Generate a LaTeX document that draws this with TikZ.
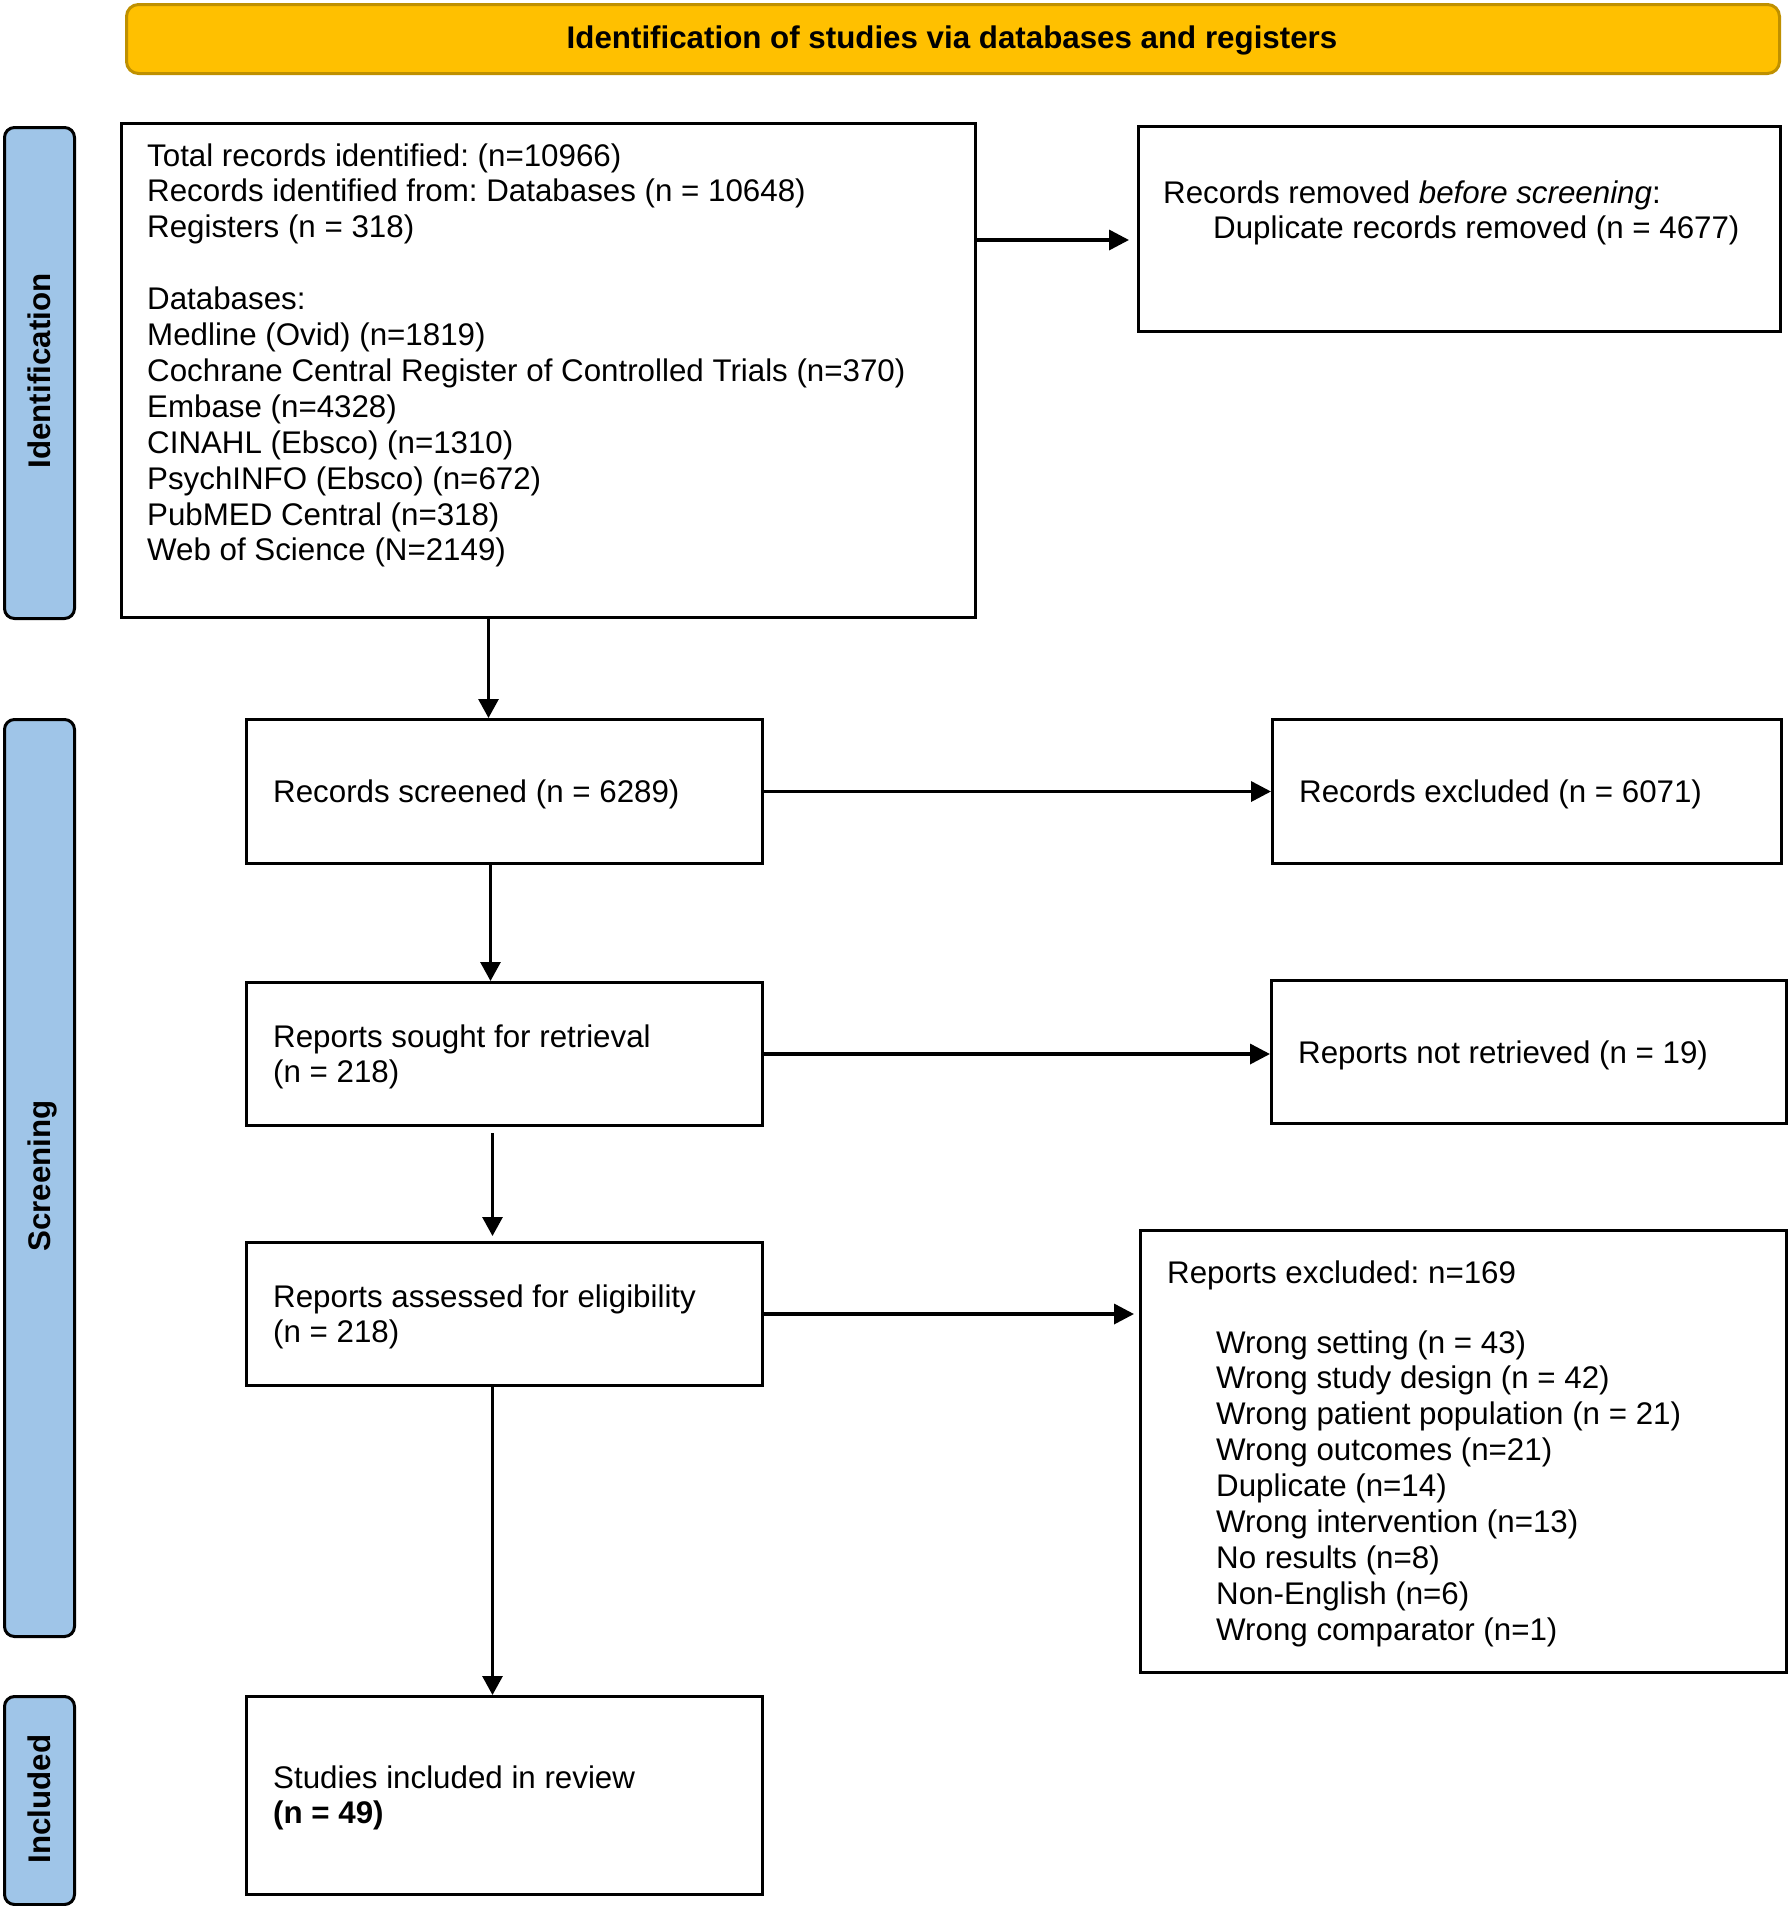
\documentclass[tikz,border=0pt]{standalone}
\usepackage{fontspec}
\setmainfont{Liberation Sans}
\usetikzlibrary{arrows.meta,calc}
\definecolor{hdrfill}{HTML}{FFC000}
\definecolor{hdrdraw}{HTML}{BF9000}
\definecolor{barfill}{HTML}{9FC5E8}
\newcommand{\mylines}[1]{\begin{tabular}[t]{@{}l@{}}#1\end{tabular}}
\frenchspacing
\begin{document}
\begin{tikzpicture}[x=1pt,y=-1pt,
  box/.style={draw=black, line width=3pt, inner sep=0pt, fill=white, anchor=north west},
  bar/.style={draw=black, line width=3pt, fill=barfill, rounded corners=10pt, inner sep=0pt, anchor=north west, minimum width=70pt},
  txt/.style={inner sep=0pt, font=\fontsize{31.3}{35.9}\selectfont, anchor=base west},
  lbl/.style={inner sep=0pt, font=\fontsize{31.3}{35.9}\selectfont\bfseries, anchor=base, rotate=90},
  harr/.style={line width=3.5pt, -{Triangle[length=20pt,width=20pt]}},
  varr/.style={line width=3pt, -{Triangle[length=19pt,width=20pt]}}]
\useasboundingbox (0,0) rectangle (1789,1906);
% header
\node[draw=hdrdraw, fill=hdrfill, line width=3pt, rounded corners=12pt, inner sep=0pt,
  anchor=north west, minimum width=1653pt, minimum height=69pt] (hdr) at (125,3) {};
\node[txt, anchor=base, font=\fontsize{31.3}{35.9}\selectfont\bfseries] (hdrt) at (952,48) {Identification of studies via databases and registers};
% side bars
\node[bar, minimum height=491pt] (idbar) at (3,126) {};
\node[bar, minimum height=917pt] (scbar) at (3,718) {};
\node[bar, minimum height=208pt] (inbar) at (3,1695) {};
\node[lbl] (idl) at (50,371) {Identification};
\node[lbl] (scl) at (50,1176) {Screening};
\node[lbl] (inl) at (50,1799) {Included};
% boxes
\node[box, minimum width=854pt, minimum height=494pt] (b1) at (120,122) {};
\node[box, minimum width=642pt, minimum height=205pt] (rem) at (1137,125) {};
\node[box, minimum width=516pt, minimum height=144pt] (scr) at (245,718) {};
\node[box, minimum width=509pt, minimum height=144pt] (excl) at (1271,718) {};
\node[box, minimum width=516pt, minimum height=143pt] (sought) at (245,981) {};
\node[box, minimum width=515pt, minimum height=143pt] (notr) at (1270,979) {};
\node[box, minimum width=516pt, minimum height=143pt] (assess) at (245,1241) {};
\node[box, minimum width=646pt, minimum height=442pt] (reasons) at (1139,1229) {};
\node[box, minimum width=516pt, minimum height=198pt] (incl) at (245,1695) {};
% texts
\node[txt] (t1) at (147,166) {\mylines{Total records identified: (n=10966)\\
Records identified from: Databases (n = 10648)\\
Registers (n = 318)\\ \mbox{}\\
Databases:\\
Medline (Ovid) (n=1819)\\
Cochrane Central Register of Controlled Trials (n=370)\\
Embase (n=4328)\\
CINAHL (Ebsco) (n=1310)\\
PsychINFO (Ebsco) (n=672)\\
PubMED Central (n=318)\\
Web of Science (N=2149)}};
\node[txt] (trem) at (1163,203) {\mylines{Records removed \textit{before screening}:\\
\hspace*{50pt}Duplicate records removed (n = 4677)}};
\node[txt] (tscr) at (273,802) {Records screened (n = 6289)};
\node[txt] (texcl) at (1299,802) {Records excluded (n = 6071)};
\node[txt] (tsought) at (273,1047) {\mylines{Reports sought for retrieval\\(n = 218)}};
\node[txt] (tnotr) at (1298,1063) {Reports not retrieved (n = 19)};
\node[txt] (tassess) at (273,1307) {\mylines{Reports assessed for eligibility\\(n = 218)}};
\node[txt] (treas) at (1167,1283) {Reports excluded: n=169};
\node[txt] (titems) at (1216,1353) {\mylines{Wrong setting (n = 43)\\
Wrong study design (n = 42)\\
Wrong patient population (n = 21)\\
Wrong outcomes (n=21)\\
Duplicate (n=14)\\
Wrong intervention (n=13)\\
No results (n=8)\\
Non-English (n=6)\\
Wrong comparator (n=1)}};
\node[txt] (tincl) at (273,1788) {\mylines{Studies included in review\\\textbf{(n = 49)}}};
% connectors
\coordinate (remin) at ($(rem.west)+(0,11)$);
\draw[harr, shorten >=8pt] (b1.east |- remin) -- (remin);
\coordinate (c1) at ($(scr.north)+(-16,0)$);
\draw[varr] (b1.south -| c1) -- (c1);
\coordinate (c2) at ($(sought.north)+(-14,0)$);
\draw[varr] (scr.south -| c2) -- (c2);
\coordinate (c3) at ($(assess.north)+(-12,0)$);
\draw[varr, shorten <=6pt, shorten >=5pt] (sought.south -| c3) -- (c3);
\coordinate (c4) at ($(incl.north)+(-12,0)$);
\draw[varr] (assess.south -| c4) -- (c4);
\draw[harr] (scr.east) -- (scr.east -| excl.west);
\draw[harr] (sought.east) -- (sought.east -| notr.west);
\draw[harr, shorten >=5pt] (assess.east) -- (assess.east -| reasons.west);
\end{tikzpicture}
\end{document}
